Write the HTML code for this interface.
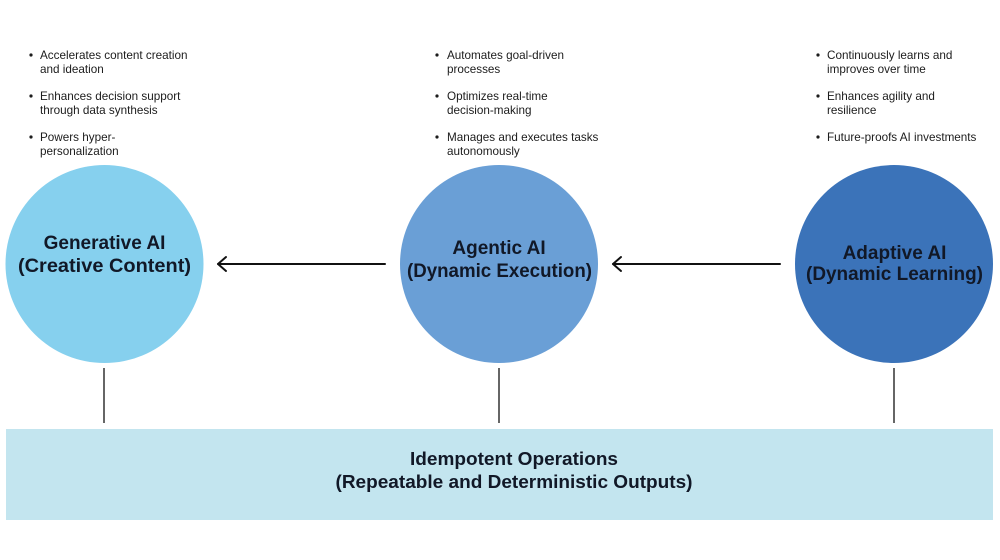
<!DOCTYPE html>
<html>
<head>
<meta charset="utf-8">
<style>
  html,body{margin:0;padding:0;background:#fff;}
  body{width:1000px;height:560px;overflow:hidden;position:relative;font-family:"Liberation Sans",sans-serif;}
  svg{position:absolute;left:0;top:0;}
</style>
</head>
<body>
<svg width="1000" height="560" viewBox="0 0 1000 560" xmlns="http://www.w3.org/2000/svg">
  <rect x="0" y="0" width="1000" height="560" fill="#ffffff"/>

  <!-- Bullets column 1 -->
  <g font-family="Liberation Sans, sans-serif" font-size="11.7" fill="#1c1c1c">
    <circle cx="31" cy="55" r="1.6"/>
    <text x="40" y="59">Accelerates content creation</text>
    <text x="40" y="73">and ideation</text>
    <circle cx="31" cy="96" r="1.6"/>
    <text x="40" y="100">Enhances decision support</text>
    <text x="40" y="114">through data synthesis</text>
    <circle cx="31" cy="137" r="1.6"/>
    <text x="40" y="141">Powers hyper-</text>
    <text x="40" y="155">personalization</text>

    <!-- column 2 -->
    <circle cx="437" cy="55" r="1.6"/>
    <text x="447" y="59">Automates goal-driven</text>
    <text x="447" y="73">processes</text>
    <circle cx="437" cy="96" r="1.6"/>
    <text x="447" y="100">Optimizes real-time</text>
    <text x="447" y="114">decision-making</text>
    <circle cx="437" cy="137" r="1.6"/>
    <text x="447" y="141">Manages and executes tasks</text>
    <text x="447" y="155">autonomously</text>

    <!-- column 3 -->
    <circle cx="818" cy="55" r="1.6"/>
    <text x="827" y="59">Continuously learns and</text>
    <text x="827" y="73">improves over time</text>
    <circle cx="818" cy="96" r="1.6"/>
    <text x="827" y="100">Enhances agility and</text>
    <text x="827" y="114">resilience</text>
    <circle cx="818" cy="137" r="1.6"/>
    <text x="827" y="141">Future-proofs AI investments</text>
  </g>

  <!-- Circles -->
  <circle cx="104.5" cy="264" r="99" fill="#86d0ee"/>
  <circle cx="499" cy="264" r="99" fill="#6a9fd6"/>
  <circle cx="894" cy="264" r="99" fill="#3b73b9"/>

  <!-- Circle labels -->
  <g font-family="Liberation Sans, sans-serif" font-size="19" font-weight="bold" fill="#111827" text-anchor="middle">
    <text x="104.5" y="249">Generative AI</text>
    <text x="104.5" y="272" textLength="173" lengthAdjust="spacingAndGlyphs">(Creative Content)</text>
    <text x="499" y="254">Agentic AI</text>
    <text x="499.5" y="277" textLength="185" lengthAdjust="spacingAndGlyphs">(Dynamic Execution)</text>
    <text x="894.5" y="259">Adaptive AI</text>
    <text x="894.5" y="280" textLength="177" lengthAdjust="spacingAndGlyphs">(Dynamic Learning)</text>
  </g>

  <!-- Arrows -->
  <g stroke="#111" stroke-width="2" fill="none" stroke-linecap="round" stroke-linejoin="round">
    <line x1="218" y1="264" x2="385" y2="264"/>
    <polyline points="226,257 218,264 226,271"/>
    <line x1="613" y1="264" x2="780" y2="264"/>
    <polyline points="621,257 613,264 621,271"/>
  </g>

  <!-- Vertical connectors -->
  <g stroke="#333" stroke-width="1.5">
    <line x1="104" y1="368" x2="104" y2="423"/>
    <line x1="499" y1="368" x2="499" y2="423"/>
    <line x1="894" y1="368" x2="894" y2="423"/>
  </g>

  <!-- Bottom bar -->
  <rect x="6" y="429" width="987" height="91" fill="#c3e5ef"/>
  <g font-family="Liberation Sans, sans-serif" font-size="18" font-weight="bold" fill="#111827" text-anchor="middle">
    <text x="514" y="465" textLength="208" lengthAdjust="spacingAndGlyphs">Idempotent Operations</text>
    <text x="514" y="488" textLength="357" lengthAdjust="spacingAndGlyphs">(Repeatable and Deterministic Outputs)</text>
  </g>
</svg>
</body>
</html>
